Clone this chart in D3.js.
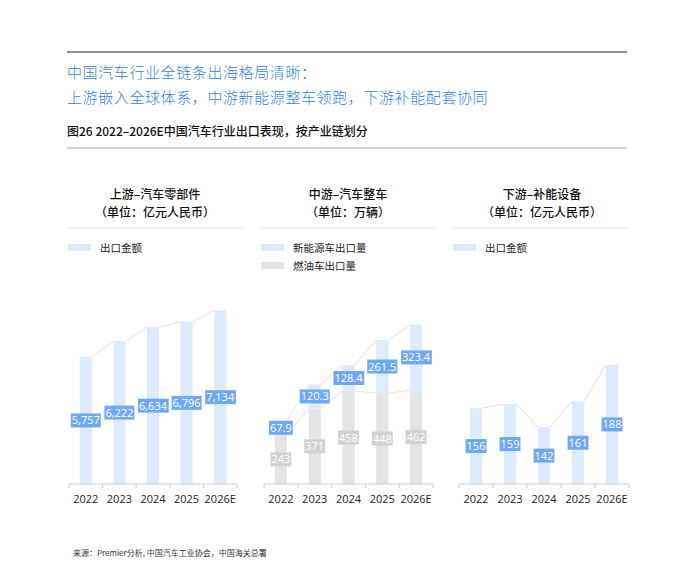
<!DOCTYPE html>
<html><head><meta charset="utf-8">
<script src="https://cdn.jsdelivr.net/npm/d3@7"></script>
<style>
html,body{margin:0;padding:0;background:#fff;}
svg{display:block;font-family:"Noto Sans CJK SC","Noto Sans",sans-serif;}
</style></head>
<body><svg id="c" width="675" height="575"></svg>
<script>
const years = ["2022","2023","2024","2025","2026E"];
const upstreamExport = [5757,6222,6634,6796,7134];
const midNEV = [67.9,120.3,128.4,261.5,323.4];
const midICE = [243,371,458,448,462];
const downstreamExport = [156,159,142,161,188];

const titleLines = ["中国汽车行业全链条出海格局清晰：","上游嵌入全球体系，中游新能源整车领跑，下游补能配套协同"];
const subtitle = "图26 2022–2026E中国汽车行业出口表现，按产业链划分";
const source = "来源：Premier分析, 中国汽车工业协会，中国海关总署";

const C = {blue:"#deebfc", blueLab:"#6fa9f2", gray:"#e4e4e4", grayLab:"#d2d2d2", line:"#e2e2e2", axis:"#cccccc", title:"#3a84d0"};

const svg = d3.select("#c");
svg.append("line").attr("x1",67).attr("x2",627).attr("y1",52).attr("y2",52).attr("stroke","#6b6b6b").attr("stroke-width",1.5);
svg.selectAll("text.tl").data(titleLines).join("text").attr("class","tl")
  .attr("x",67).attr("y",(d,i)=>78+i*25).attr("font-size",15).attr("fill",C.title).attr("font-weight",300)
  .attr("letter-spacing",0.6).text(d=>d);
svg.append("text").attr("x",67).attr("y",136).attr("font-size",12).attr("font-weight",500).attr("fill","#111").text(subtitle);
svg.append("line").attr("x1",67).attr("x2",627).attr("y1",148).attr("y2",148).attr("stroke","#d4d4d4").attr("stroke-width",2);
svg.append("text").attr("x",73).attr("y",556).attr("font-size",8).attr("fill","#333").text(source);

const baseY = 484, topY = 281;
const panels = [
  {title:"上游–汽车零部件", unit:"（单位：亿元人民币）", cx:155, lx:[68,243], xr:[69,237], domain:[2000,8000],
   legend:[{name:"出口金额", color:C.blue}],
   series:[{vals:upstreamExport, color:C.blue, lab:C.blueLab, fmt:d3.format(",")}]},
  {title:"中游–汽车整车", unit:"（单位：万辆）", cx:348, lx:[261,435], xr:[264,433], domain:[0,1000],
   legend:[{name:"新能源车出口量", color:C.blue},{name:"燃油车出口量", color:C.gray}],
   series:[{vals:midICE, color:C.gray, lab:C.grayLab, fmt:d3.format("d")},
           {vals:midNEV, color:C.blue, lab:C.blueLab, fmt:d3.format(".1f")}]},
  {title:"下游–补能设备", unit:"（单位：亿元人民币）", cx:542, lx:[453,628], xr:[459,629], domain:[100,250],
   legend:[{name:"出口金额", color:C.blue}],
   series:[{vals:downstreamExport, color:C.blue, lab:C.blueLab, fmt:d3.format("d")}]}
];

panels.forEach(p=>{
  const g = svg.append("g");
  g.append("text").attr("x",p.cx).attr("y",199).attr("text-anchor","middle").attr("font-size",12).attr("font-weight",500).attr("fill","#111").text(p.title);
  g.append("text").attr("x",p.cx).attr("y",217).attr("text-anchor","middle").attr("font-size",12).attr("font-weight",500).attr("fill","#111").text(p.unit);
  g.append("line").attr("x1",p.lx[0]).attr("x2",p.lx[1]).attr("y1",228).attr("y2",228).attr("stroke","#ececec").attr("stroke-width",1.5);
  p.legend.forEach((l,i)=>{
    g.append("rect").attr("x",p.lx[0]).attr("y",244+i*18).attr("width",23).attr("height",7).attr("fill",l.color);
    g.append("text").attr("x",p.lx[0]+32).attr("y",251.5+i*18).attr("font-size",10.5).attr("fill","#222").text(l.name);
  });

  const x = d3.scaleBand().domain(years).range(p.xr).padding(0);
  const y = d3.scaleLinear().domain(p.domain).range([baseY, topY]);
  const bw = x.bandwidth()*0.36;
  const bx = d => x(d) + (x.bandwidth()-bw)/2;

  let base = years.map(()=>p.domain[0]);
  const segs = [];
  p.series.forEach(s=>{
    const seg = years.map((yr,i)=>({yr, y0:base[i], v:s.vals[i],
      y1:(p.series.length===1) ? s.vals[i] : base[i] + s.vals[i]}));
    base = seg.map(d=>d.y1);
    segs.push({s, seg});
  });

  segs.forEach(({s,seg})=>{
    g.selectAll(null).data(seg).join("rect")
      .attr("x",d=>bx(d.yr)).attr("width",bw)
      .attr("y",d=>y(d.y1)).attr("height",d=>y(d.y0)-y(d.y1)).attr("fill",s.color);
  });
  segs.forEach(({s,seg})=>{
    for(let i=0;i<seg.length-1;i++){
      g.append("line").attr("x1",bx(seg[i].yr)+bw).attr("y1",y(seg[i].y1))
        .attr("x2",bx(seg[i+1].yr)).attr("y2",y(seg[i+1].y1)).attr("stroke",C.line).attr("stroke-width",1);
    }
  });
  const ax = g.append("g").attr("transform",`translate(0,${baseY})`);
  ax.append("line").attr("x1",p.xr[0]).attr("x2",p.xr[1]).attr("stroke",C.axis);
  const ticks = years.map(yr=>x(yr)).concat([p.xr[1]]);
  ax.selectAll(null).data(ticks).join("line").attr("x1",d=>d).attr("x2",d=>d).attr("y1",0).attr("y2",4).attr("stroke",C.axis);
  ax.selectAll(null).data(years).join("text").attr("x",d=>x(d)+x.bandwidth()/2).attr("y",19)
    .attr("text-anchor","middle").attr("font-size",11).attr("font-family","Open Sans, Noto Sans, sans-serif").attr("fill","#222").text(d=>d);
  segs.forEach(({s,seg})=>{
    seg.forEach(d=>{
      const cy = (y(d.y0)+y(d.y1))/2, cx = bx(d.yr)+bw/2;
      const lg = g.append("g");
      const t = lg.append("text").attr("x",cx).attr("y",cy+4).attr("text-anchor","middle").attr("font-size",11)
        .attr("font-family","Open Sans, Noto Sans, sans-serif").attr("fill","#fff").text(s.fmt(d.v));
      const bb = t.node().getBBox();
      lg.insert("rect","text").attr("x",bb.x-1).attr("y",cy-7).attr("width",bb.width+2).attr("height",14).attr("fill",s.lab);
    });
  });
});
</script></body></html>
